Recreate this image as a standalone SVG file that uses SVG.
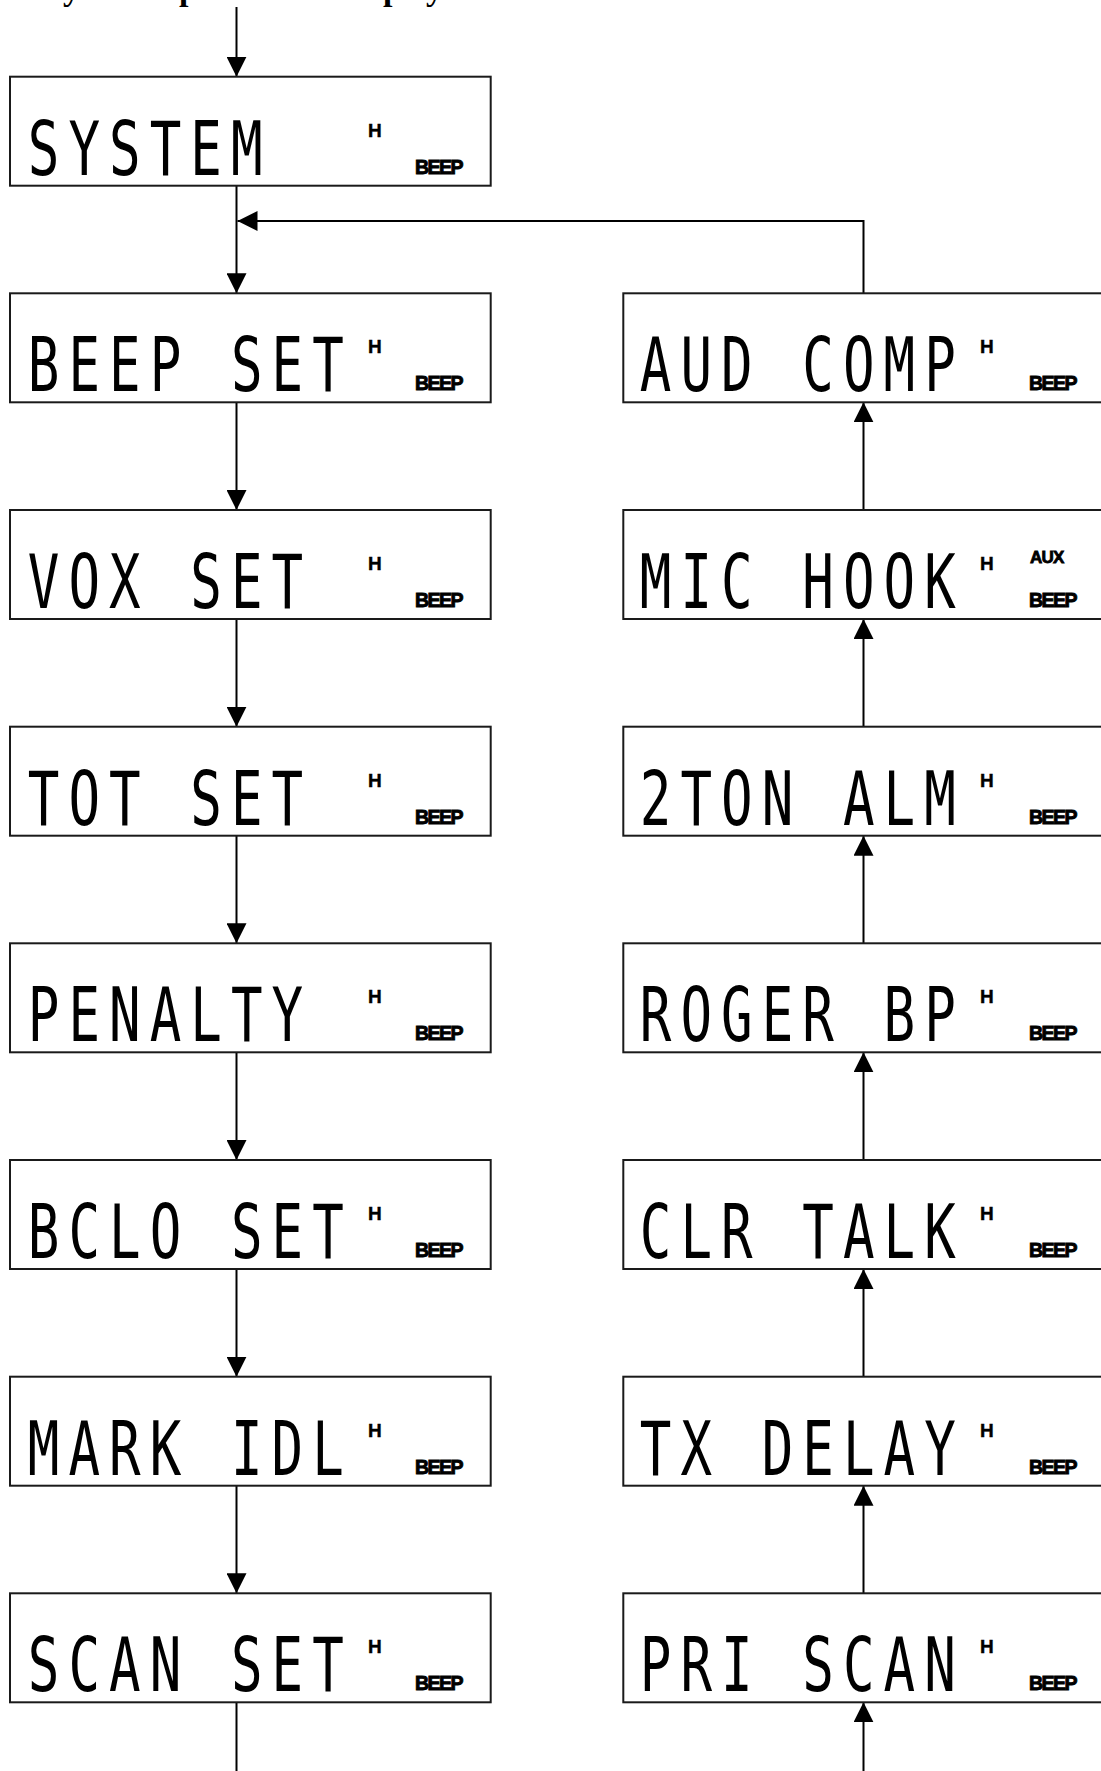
<svg xmlns="http://www.w3.org/2000/svg" width="1101" height="1771" viewBox="0 0 1101 1771">
<style>
  .box{fill:#fff;stroke:#1a1a1a;stroke-width:2}
  .lcd{font-family:"DejaVu Sans Mono","Liberation Mono",monospace;font-size:75px;letter-spacing:12.9px;fill:#000;white-space:pre}
  .h{font-family:"Liberation Sans",Arial,sans-serif;font-weight:bold;font-size:19px;fill:#000;stroke:#000;stroke-width:0.4}
  .beep{font-family:"Liberation Sans",Arial,sans-serif;font-weight:bold;font-size:19.5px;letter-spacing:-1.5px;fill:#000;stroke:#000;stroke-width:0.9}
  .aux{font-family:"Liberation Sans",Arial,sans-serif;font-weight:bold;font-size:17px;letter-spacing:-0.8px;fill:#000;stroke:#000;stroke-width:0.8}
  .cap{font-family:"Liberation Serif","Times New Roman",serif;font-weight:bold;font-size:34px;fill:#000}
  .conn{fill:none;stroke:#000;stroke-width:2}
</style>
<defs>
  <marker id="arr" viewBox="0 0 20 20" refX="20" refY="10" markerWidth="20" markerHeight="20" markerUnits="userSpaceOnUse" orient="auto">
    <path d="M0,0 L20,10 L0,20 z" fill="#000"/>
  </marker>
</defs>
<rect width="1101" height="1771" fill="#fff"/>
<text class="cap" x="63 179 383 426" y="0">yppy</text>

<g id="connectors">
  <path class="conn" d="M236.5,7 V76.7" marker-end="url(#arr)"/>
  <path class="conn" d="M236.5,185.7 V293.3" marker-end="url(#arr)"/>
  <path class="conn" d="M236.5,402.3 V510" marker-end="url(#arr)"/>
  <path class="conn" d="M236.5,619 V726.7" marker-end="url(#arr)"/>
  <path class="conn" d="M236.5,835.7 V943.3" marker-end="url(#arr)"/>
  <path class="conn" d="M236.5,1052.3 V1160" marker-end="url(#arr)"/>
  <path class="conn" d="M236.5,1269 V1376.7" marker-end="url(#arr)"/>
  <path class="conn" d="M236.5,1485.7 V1593.3" marker-end="url(#arr)"/>
  <path class="conn" d="M236.5,1702.3 V1771"/>
  <path class="conn" d="M863.5,1771 V1702.3" marker-end="url(#arr)"/>
  <path class="conn" d="M863.5,1593.3 V1485.7" marker-end="url(#arr)"/>
  <path class="conn" d="M863.5,1376.7 V1269" marker-end="url(#arr)"/>
  <path class="conn" d="M863.5,1160 V1052.3" marker-end="url(#arr)"/>
  <path class="conn" d="M863.5,943.3 V835.7" marker-end="url(#arr)"/>
  <path class="conn" d="M863.5,726.7 V619" marker-end="url(#arr)"/>
  <path class="conn" d="M863.5,510 V402.3" marker-end="url(#arr)"/>
  <path class="conn" d="M863.5,293.3 V221 H237.5" marker-end="url(#arr)"/>
</g>

<g id="n-system">
  <rect class="box" x="10" y="76.7" width="480.7" height="109"/>
  <text class="lcd" transform="translate(27.8,174.7) scale(0.7,1)">SYSTEM</text>
  <text class="h" x="368" y="136.7">H</text>
  <text class="beep" x="415" y="173.7">BEEP</text>
</g>
<g id="n-beep-set">
  <rect class="box" x="10" y="293.3" width="480.7" height="109"/>
  <text class="lcd" transform="translate(27.8,391.3) scale(0.7,1)">BEEP SET</text>
  <text class="h" x="368" y="353.3">H</text>
  <text class="beep" x="415" y="390.3">BEEP</text>
</g>
<g id="n-vox-set">
  <rect class="box" x="10" y="510" width="480.7" height="109"/>
  <text class="lcd" transform="translate(27.8,608) scale(0.7,1)">VOX SET</text>
  <text class="h" x="368" y="570">H</text>
  <text class="beep" x="415" y="607">BEEP</text>
</g>
<g id="n-tot-set">
  <rect class="box" x="10" y="726.7" width="480.7" height="109"/>
  <text class="lcd" transform="translate(27.8,824.7) scale(0.7,1)">TOT SET</text>
  <text class="h" x="368" y="786.7">H</text>
  <text class="beep" x="415" y="823.7">BEEP</text>
</g>
<g id="n-penalty">
  <rect class="box" x="10" y="943.3" width="480.7" height="109"/>
  <text class="lcd" transform="translate(27.8,1041.3) scale(0.7,1)">PENALTY</text>
  <text class="h" x="368" y="1003.3">H</text>
  <text class="beep" x="415" y="1040.3">BEEP</text>
</g>
<g id="n-bclo-set">
  <rect class="box" x="10" y="1160" width="480.7" height="109"/>
  <text class="lcd" transform="translate(27.8,1258) scale(0.7,1)">BCLO SET</text>
  <text class="h" x="368" y="1220">H</text>
  <text class="beep" x="415" y="1257">BEEP</text>
</g>
<g id="n-mark-idl">
  <rect class="box" x="10" y="1376.7" width="480.7" height="109"/>
  <text class="lcd" transform="translate(27.8,1474.7) scale(0.7,1)">MARK IDL</text>
  <text class="h" x="368" y="1436.7">H</text>
  <text class="beep" x="415" y="1473.7">BEEP</text>
</g>
<g id="n-scan-set">
  <rect class="box" x="10" y="1593.3" width="480.7" height="109"/>
  <text class="lcd" transform="translate(27.8,1691.3) scale(0.7,1)">SCAN SET</text>
  <text class="h" x="368" y="1653.3">H</text>
  <text class="beep" x="415" y="1690.3">BEEP</text>
</g>

<g id="n-aud-comp">
  <rect class="box" x="623.3" y="293.3" width="481" height="109"/>
  <text class="lcd" transform="translate(639.8,391.3) scale(0.7,1)">AUD COMP</text>
  <text class="h" x="980" y="353.3">H</text>
  <text class="beep" x="1029" y="390.3">BEEP</text>
</g>
<g id="n-mic-hook">
  <rect class="box" x="623.3" y="510" width="481" height="109"/>
  <text class="lcd" transform="translate(639.8,608) scale(0.7,1)">MIC HOOK</text>
  <text class="h" x="980" y="570">H</text>
  <text class="aux" x="1030" y="563">AUX</text>
  <text class="beep" x="1029" y="607">BEEP</text>
</g>
<g id="n-2ton-alm">
  <rect class="box" x="623.3" y="726.7" width="481" height="109"/>
  <text class="lcd" transform="translate(639.8,824.7) scale(0.7,1)">2TON ALM</text>
  <text class="h" x="980" y="786.7">H</text>
  <text class="beep" x="1029" y="823.7">BEEP</text>
</g>
<g id="n-roger-bp">
  <rect class="box" x="623.3" y="943.3" width="481" height="109"/>
  <text class="lcd" transform="translate(639.8,1041.3) scale(0.7,1)">ROGER BP</text>
  <text class="h" x="980" y="1003.3">H</text>
  <text class="beep" x="1029" y="1040.3">BEEP</text>
</g>
<g id="n-clr-talk">
  <rect class="box" x="623.3" y="1160" width="481" height="109"/>
  <text class="lcd" transform="translate(639.8,1258) scale(0.7,1)">CLR TALK</text>
  <text class="h" x="980" y="1220">H</text>
  <text class="beep" x="1029" y="1257">BEEP</text>
</g>
<g id="n-tx-delay">
  <rect class="box" x="623.3" y="1376.7" width="481" height="109"/>
  <text class="lcd" transform="translate(639.8,1474.7) scale(0.7,1)">TX DELAY</text>
  <text class="h" x="980" y="1436.7">H</text>
  <text class="beep" x="1029" y="1473.7">BEEP</text>
</g>
<g id="n-pri-scan">
  <rect class="box" x="623.3" y="1593.3" width="481" height="109"/>
  <text class="lcd" transform="translate(639.8,1691.3) scale(0.7,1)">PRI SCAN</text>
  <text class="h" x="980" y="1653.3">H</text>
  <text class="beep" x="1029" y="1690.3">BEEP</text>
</g>
</svg>
